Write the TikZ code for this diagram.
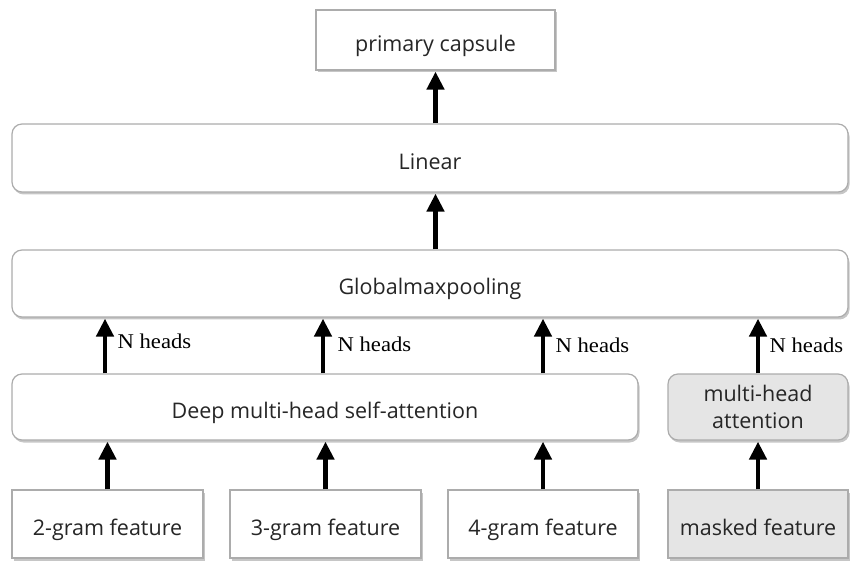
\documentclass[tikz,border=0pt]{standalone}
\usepackage{fontspec}
\setmainfont{Liberation Serif}
\newfontfamily\boxfont{Open Sans}
\newfontfamily\lblfont[FakeStretch=1.08]{Liberation Serif}
\usetikzlibrary{arrows.meta,shadows,calc}
\begin{document}
\begin{tikzpicture}[x=1pt,y=1pt,
  boxbase/.style={draw=gray!65, line width=1.2pt, text=black!85, font=\boxfont\fontsize{21.5}{27}\selectfont, align=center, inner sep=0pt,
    drop shadow={shadow xshift=1.5pt, shadow yshift=-2.5pt, opacity=0.45, fill=gray}},
  oneline/.style={text height=25pt, text depth=2pt},
  sqbox/.style={boxbase, oneline, fill=white},
  rdbox/.style={boxbase, fill=white, rounded corners=10pt},
  greybox/.style={fill=gray!20},
  arr/.style={line width=4.5pt, -{Triangle[width=17pt,length=18pt]}, shorten >=1pt},
  lbl/.style={font=\lblfont\fontsize{21}{24}\selectfont, anchor=west}]
\useasboundingbox (0,0) rectangle (858,565);
\node[sqbox, minimum width=239pt, minimum height=60pt] (cap) at (435.5,525) {primary capsule};
\node[rdbox, oneline, minimum width=836pt, minimum height=68pt] (lin) at (430,407) {Linear};
\node[rdbox, oneline, minimum width=836pt, minimum height=67pt] (glob) at (430,281.5) {Globalmaxpooling};
\node[rdbox, oneline, minimum width=626pt, minimum height=66pt] (deep) at (325,158) {Deep multi-head self-attention};
\node[rdbox, greybox, minimum width=180pt, minimum height=66pt] (mha) at (758,158) {multi-head\\attention};
\node[sqbox, minimum width=191pt, minimum height=68pt] (f2) at (107.5,41) {2-gram feature};
\node[sqbox, minimum width=191pt, minimum height=68pt] (f3) at (325.5,41) {3-gram feature};
\node[sqbox, minimum width=190pt, minimum height=68pt] (f4) at (543,41) {4-gram feature};
\node[sqbox, greybox, minimum width=180pt, minimum height=68pt] (fm) at (758,41) {masked feature};
% arrows
\draw[arr] (lin.north -| cap.south) -- (cap.south);
\draw[arr] (glob.north -| cap.south) -- (lin.south -| cap.south);
\foreach \f/\x in {f2/105,f3/323,f4/543,fm/761}{
  \coordinate (b\f) at (\x,0);
}
\draw[arr] (f2.north) -- (f2.north |- deep.south);
\draw[arr] (f3.north) -- (f3.north |- deep.south);
\draw[arr] (f4.north) -- (f4.north |- deep.south);
\draw[arr] (fm.north) -- (mha.south);
\draw[arr] (bf2 |- deep.north) -- (bf2 |- glob.south) node[lbl, pos=0.57, xshift=7pt] {N heads};
\draw[arr] (bf3 |- deep.north) -- (bf3 |- glob.south) node[lbl, pos=0.52, xshift=9pt] {N heads};
\draw[arr] (bf4 |- deep.north) -- (bf4 |- glob.south) node[lbl, pos=0.5, xshift=7pt] {N heads};
\draw[arr] (mha.north) -- (mha.north |- glob.south) node[lbl, pos=0.5, xshift=6pt] {N heads};
\end{tikzpicture}
\end{document}
